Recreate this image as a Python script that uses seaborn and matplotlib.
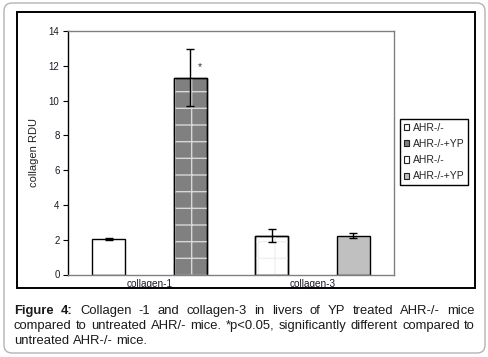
import pandas as pd
import matplotlib
import matplotlib.pyplot as plt
import seaborn as sns
from matplotlib.patches import Patch, Rectangle, FancyBboxPatch

# データ
categories = ["collagen-1", "collagen-1", "collagen-3", "collagen-3"]
groups = ["AHR-/-", "AHR-/-+YP", "AHR-/-", "AHR-/-+YP"]
values = [2.06, 11.3, 2.24, 2.24]
errors = [0.05, 1.64, 0.35, 0.15]
category_order = ["collagen-1", "collagen-3"]
group_order = ["AHR-/-", "AHR-/-+YP"]
y_ticks = [0, 2, 4, 6, 8, 10, 12, 14]

bar_colors = ["#ffffff", "#808080", "#ffffff", "#c0c0c0"]
bar_hatches = [None, "+", "+", None]
hatch_colors = [None, "#d8d8d8", "#f0f0f0", None]

legend_labels = ["AHR-/-", "AHR-/-+YP", "AHR-/-", "AHR-/-+YP"]
legend_colors = ["#ffffff", "#808080", "#ffffff", "#c0c0c0"]

caption_lines = [
    "Figure 4: Collagen -1 and collagen-3 in livers of YP treated AHR-/- mice",
    "compared to untreated AHR/- mice. *p<0.05, significantly different compared to",
    "untreated AHR-/- mice.",
]
n_bold = 2  # "Figure 4:" は太字

sns.set_style("white")
plt.rcParams['font.family'] = ['Liberation Sans', 'DejaVu Sans']
plt.rcParams['hatch.linewidth'] = 1.0

W, H = 488, 357
fig = plt.figure(figsize=(W / 100, H / 100), dpi=100)

# 外枠 (角丸) と内枠
fig.patches.append(FancyBboxPatch((0.04, 0.04), 4.81, 3.50,
                                  boxstyle="round,pad=0,rounding_size=0.08",
                                  transform=fig.dpi_scale_trans, fill=False,
                                  edgecolor="#b4b4b4", linewidth=1.0))
fig.patches.append(Rectangle((0.17, (H - 288) / 100), 4.58, 2.76,
                             transform=fig.dpi_scale_trans, fill=False,
                             edgecolor="black", linewidth=1.4))

ax = fig.add_axes([68 / W, 1 - 274.5 / H, (394 - 68) / W, (274.5 - 31) / H])

df = pd.DataFrame({"category": categories, "group": groups, "value": values})
sns.barplot(data=df, x="category", y="value", hue="group",
            order=category_order, hue_order=group_order,
            width=1.0, gap=0.6, errorbar=None, legend=False,
            edgecolor="black", linewidth=1.0, ax=ax)

bars = sorted(ax.patches, key=lambda p: p.get_x())
for p, fc, hatch, hc in zip(bars, bar_colors, bar_hatches, hatch_colors):
    p.set_facecolor(fc)
    p.set_edgecolor("black")
    if hatch:
        ax.add_patch(Rectangle((p.get_x(), p.get_y()), p.get_width(), p.get_height(),
                               fill=False, hatch=hatch, edgecolor=hc, linewidth=0,
                               zorder=p.get_zorder() + 0.1))
        ax.add_patch(Rectangle((p.get_x(), p.get_y()), p.get_width(), p.get_height(),
                               fill=False, edgecolor="black", linewidth=1.0,
                               zorder=p.get_zorder() + 0.2))

xs = [p.get_x() + p.get_width() / 2 for p in bars]
ax.errorbar(xs, values, yerr=errors, fmt="none", ecolor="black",
            elinewidth=1.0, capsize=3, capthick=1.0, zorder=6)

ax.text(0.31, 11.9, "*", ha="center", va="center", fontsize=7.5, color="#303040")

ax.set_xlim(-0.5, 1.5)
ax.set_ylim(0, 14)
ax.set_yticks(y_ticks)
ax.set_xlabel("")
ax.set_ylabel("collagen RDU", fontsize=8, color="#222222")
ax.yaxis.set_label_coords(-0.089, 0.5)
for s in ax.spines.values():
    s.set_visible(True)
    s.set_color("#808080")
    s.set_linewidth(1.0)
ax.spines["left"].set_color("black")
ax.tick_params(axis="y", direction="out", length=3.6, width=0.8, color="black",
               labelsize=7, labelcolor="#1a1a2a", pad=2.5, left=True)
ax.tick_params(axis="x", length=0, labelsize=7.2, labelcolor="#1a1a2a", pad=3)

handles = [Patch(facecolor=c, edgecolor="#202020", linewidth=0.8) for c in legend_colors]
leg = fig.legend(handles, legend_labels, loc="upper left",
                 bbox_to_anchor=(400 / W, 1 - 119 / H), bbox_transform=fig.transFigure,
                 frameon=True, fancybox=False, edgecolor="black", framealpha=1,
                 fontsize=7.5, handlelength=0.55, handleheight=0.55, handletextpad=0.3,
                 labelspacing=0.6, borderpad=0.35, borderaxespad=0)
leg.get_frame().set_linewidth(1.0)

# キャプション (両端揃え)
renderer = fig.canvas.get_renderer()
left_px, right_px = 14, 475
baselines = [314, 329, 344]
fs = 9.4
for i, (line, base) in enumerate(zip(caption_lines, baselines)):
    words = line.split(" ")
    texts = []
    for j, w in enumerate(words):
        bold = (i == 0 and j < n_bold)
        t = fig.text(0, 1 - base / H, w, fontsize=fs,
                     fontweight="bold" if bold else "normal",
                     color="#1a1a1a", ha="left", va="baseline")
        texts.append(t)
    widths = [t.get_window_extent(renderer).width for t in texts]
    if i < len(caption_lines) - 1:
        gap = (right_px - left_px - sum(widths)) / (len(words) - 1)
    else:
        gap = 0.278 * fs * 100 / 72
    x = left_px
    for t, w in zip(texts, widths):
        t.set_x(x / W)
        x += w + gap

fig.savefig("out.png", dpi=100)
